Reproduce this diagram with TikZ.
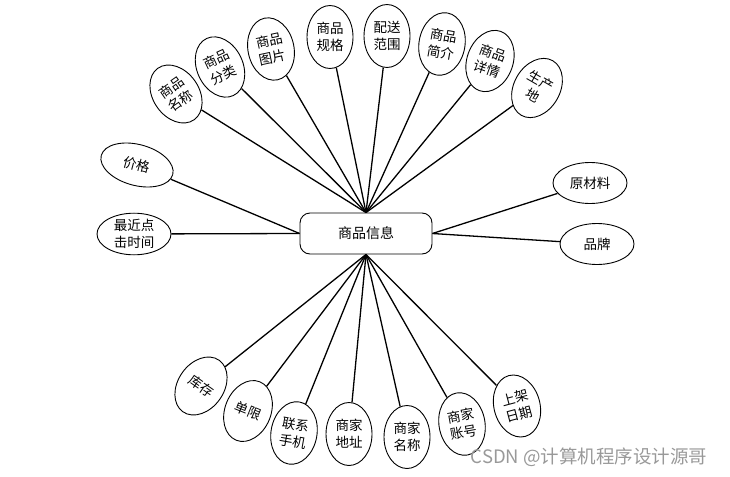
\documentclass[tikz,border=0pt]{standalone}
\usepackage{fontspec}
\newfontfamily\cjk{Noto Sans CJK SC}
\usepackage{tikz}
\usetikzlibrary{shapes.geometric}

\begin{document}
\begin{tikzpicture}[
    x=1pt, y=-1pt,
    attr/.style={draw, ellipse, line width=0.9pt, inner sep=0pt, align=center, minimum width=46pt, minimum height=63pt, font=\cjk\fontsize{13.5}{17}\selectfont},
    wide/.style={attr, minimum width=74pt, minimum height=41pt},
    entity/.style={draw, line width=0.9pt, rounded corners=10pt, minimum width=132pt, minimum height=41pt, font=\cjk\fontsize{14}{16}\selectfont},
    link/.style={line width=1.3pt}
]
\useasboundingbox (0,0) rectangle (730,476);

\node[entity] (info) at (366,233.5) {商品信息};

% top
\node[attr, rotate=35] (mc) at (176,94) {商品\\名称};
\node[attr, rotate=25] (fl) at (220,67) {商品\\分类};
\node[attr, rotate=12] (tp) at (271,49) {商品\\图片};
\node[attr] (gg) at (330,37) {商品\\规格};
\node[attr] (ps) at (387,36) {配送\\范围};
\node[attr, rotate=-10] (jj) at (442,44) {商品\\简介};
\node[attr, rotate=-20] (xq) at (490,61) {商品\\详情};
\node[attr, rotate=-30] (cd) at (537,88) {生产\\地};

% left and right
\node[wide, rotate=-15] (jg) at (137,165) {价格};
\node[wide] (dj) at (134,234) {最近点\\击时间};
\node[wide] (ycl) at (590,183) {原材料};
\node[wide] (pp) at (597,244) {品牌};

% bottom
\node[attr, rotate=-35] (kc) at (201,386) {库存};
\node[attr, rotate=-22] (dx) at (248,411) {单限};
\node[attr, rotate=-10] (sj) at (294,433) {联系\\手机};
\node[attr] (dz) at (349,434) {商家\\地址};
\node[attr] (sm) at (407,437) {商家\\名称};
\node[attr, rotate=10] (zh) at (462,424) {商家\\账号};
\node[attr, rotate=15] (rq) at (517,406) {上架\\日期};

\node[text=black!40, font=\cjk\fontsize{18.5}{20}\selectfont] (wm) at (589,457) {CSDN @计算机程序设计源哥};

\foreach \n in {mc,fl,tp,gg,ps,jj,xq,cd}
    \draw[link] (\n) -- (info.north);
\foreach \n in {kc,dx,sj,dz,sm,zh,rq}
    \draw[link] (\n) -- (info.south);
\draw[link] (jg) -- (info.west);
\draw[link] (dj) -- (info.west);
\draw[link] (ycl) -- (info.east);
\draw[link] (pp) -- (info.east);

\end{tikzpicture}
\end{document}
